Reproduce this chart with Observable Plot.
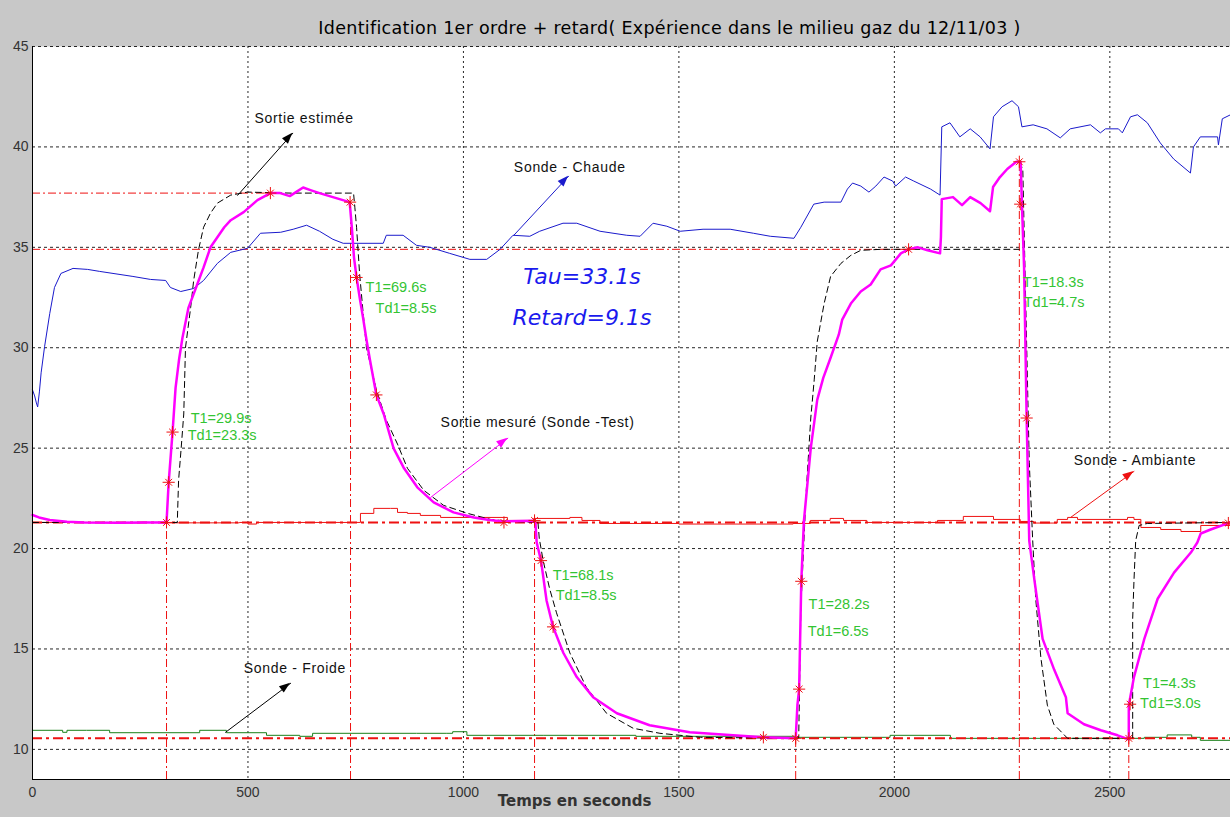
<!DOCTYPE html>
<html>
<head>
<meta charset="utf-8">
<script src="https://cdn.jsdelivr.net/npm/d3@7"></script>
<script src="https://cdn.jsdelivr.net/npm/@observablehq/plot@0.6"></script>
<style>
  html, body { margin:0; padding:0; background:#c8c8c8; width:1230px; height:817px; overflow:hidden; position:relative; }
  #title { position:absolute; left:0; top:0; width:1339px; height:36px; line-height:56px; text-align:center;
           font-family:"DejaVu Sans", sans-serif; font-size:17.5px; letter-spacing:0.3px; color:#000; white-space:nowrap; }
  #chart { position:absolute; left:0; top:36px; }
  .name-label text { letter-spacing:0.7px; }
</style>
</head>
<body>
<div id="title">Identification 1er ordre + retard( Expérience dans le milieu gaz du 12/11/03 )</div>
<div id="chart"></div>
<script>
// ---------------- data ----------------
const xTicks = [0, 500, 1000, 1500, 2000, 2500];
const yTicks = [10, 15, 20, 25, 30, 35, 40, 45];

// Sortie mesurée (Sonde -Test) : magenta
const measured = [[0,21.67],[15,21.55],[40,21.42],[80,21.33],[120,21.3],[200,21.28],[260,21.3],[311,21.3],[316,23.3],[325,25.8],[332,28.0],[340,29.4],[348,30.5],[362,32.0],[383,33.2],[397,34.0],[413,35.0],[429,35.5],[445,36.0],[460,36.35],[490,36.75],[522,37.35],[552,37.7],[575,37.7],[597,37.55],[615,37.8],[628,37.98],[645,37.85],[666,37.7],[697,37.5],[736,37.25],[741,36.0],[746,34.5],[752,33.5],[760,32.4],[767,31.5],[775,30.4],[783,29.4],[798,27.65],[815,26.7],[838,24.99],[861,24.04],[893,23.05],[931,22.3],[977,21.8],[1024,21.55],[1060,21.42],[1093,21.35],[1163,21.38],[1167,21.3],[1170,20.3],[1180,19.4],[1193,17.4],[1208,16.1],[1232,14.8],[1263,13.6],[1301,12.6],[1356,11.8],[1432,11.2],[1525,10.85],[1626,10.7],[1696,10.6],[1771,10.55],[1775,12.2],[1779,13.0],[1784,18.37],[1790,21.35],[1806,25.0],[1821,27.4],[1835,28.5],[1852,29.5],[1871,30.65],[1879,31.4],[1899,32.2],[1922,32.8],[1945,33.15],[1968,33.9],[1992,34.1],[2015,34.7],[2033,34.9],[2055,35.0],[2077,34.85],[2106,34.7],[2108,35.5],[2110,37.4],[2136,37.5],[2157,37.1],[2176,37.5],[2200,37.2],[2222,36.8],[2229,38.0],[2245,38.5],[2262,38.9],[2283,39.26],[2293,39.26],[2296,37.15],[2301,34.0],[2307,26.45],[2313,20.38],[2325,18.43],[2344,15.5],[2371,13.96],[2398,12.6],[2402,11.8],[2440,11.25],[2479,10.95],[2518,10.7],[2544,10.5],[2544,12.2],[2556,13.6],[2580,15.5],[2611,17.5],[2649,18.8],[2688,19.8],[2703,20.3],[2711,20.75],[2734,20.95],[2775,21.27],[2780,21.3]];

// Sortie estimée : black dashed, two pieces
const estimatedA = [[0,21.3],[336,21.3],[339,23.4],[345,25.0],[351,26.7],[355,30.0],[361,31.0],[367,32.0],[374,33.35],[385,34.85],[397,36.0],[413,36.7],[429,37.2],[460,37.6],[499,37.75],[600,37.7],[745,37.7],[748,37.0],[752,36.0],[759,33.7],[767,31.8],[775,30.0],[798,27.9],[821,26.4],[847,25.2],[870,24.0],[908,22.9],[954,22.15],[1010,21.75],[1063,21.45],[1110,21.35],[1173,21.3],[1176,20.5],[1185,19.4],[1200,18.0],[1216,16.8],[1247,14.8],[1285,13.1],[1332,11.8],[1394,11.05],[1456,10.8],[1550,10.6],[1778,10.55],[1783,17.0],[1795,22.7],[1806,26.5],[1814,28.4],[1821,30.3],[1837,32.2],[1852,33.55],[1876,34.2],[1899,34.6],[1922,34.85],[1968,34.9],[2290,34.9]];
const estimatedB = [[2290,39.26],[2298,38.9],[2305,32.05],[2313,24.3],[2321,20.4],[2328,17.5],[2340,14.55],[2355,12.2],[2370,11.25],[2402,10.55],[2553,10.55],[2553,16.5],[2556,18.4],[2560,20.4],[2568,21.15],[2587,21.25],[2780,21.3]];

// Sonde - Chaude : blue
const hot = [[0,27.9],[5,27.6],[9,27.25],[12,27.05],[16,27.8],[20,28.75],[28,30.05],[40,31.7],[51,33.0],[66,33.7],[94,33.95],[128,33.9],[156,33.8],[233,33.55],[274,33.4],[309,33.35],[320,33.0],[344,32.8],[374,32.95],[397,33.35],[429,34.2],[460,34.75],[499,34.95],[529,35.7],[576,35.75],[605,35.9],[636,36.1],[666,35.8],[697,35.4],[721,35.2],[814,35.2],[821,35.6],[860,35.6],[891,35.1],[922,35.0],[968,34.7],[1015,34.4],[1054,34.4],[1085,34.9],[1115,35.6],[1154,35.55],[1177,35.8],[1231,36.2],[1263,36.2],[1317,35.8],[1379,35.6],[1410,35.55],[1440,36.2],[1472,36.05],[1503,35.8],[1556,35.9],[1619,35.9],[1673,35.7],[1712,35.55],[1767,35.45],[1783,36.0],[1813,37.15],[1837,37.25],[1876,37.25],[1891,37.9],[1903,38.2],[1922,38.05],[1941,37.75],[1957,38.05],[1976,38.5],[1996,38.3],[2003,38.05],[2026,38.5],[2045,38.3],[2084,37.9],[2106,37.6],[2110,41.0],[2129,41.2],[2152,40.5],[2176,40.9],[2199,40.5],[2222,39.9],[2230,41.5],[2250,42.0],[2273,42.3],[2288,42.0],[2296,41.0],[2322,41.1],[2354,40.9],[2385,40.45],[2408,40.9],[2455,41.1],[2478,40.7],[2490,40.9],[2520,40.9],[2529,40.7],[2548,41.5],[2564,41.6],[2587,41.2],[2617,40.2],[2648,39.4],[2687,38.7],[2694,40.0],[2710,40.5],[2750,40.5],[2752,40.1],[2761,41.4],[2780,41.6]];

// Sonde - Ambiante : red
const ambient = [[0,21.3],[100,21.3],[200,21.28],[250,21.3],[300,21.28],[480,21.3],[500,21.22],[520,21.3],[738,21.3],[761,21.75],[792,22.0],[831,22.0],[847,21.8],[870,21.75],[900,21.65],[947,21.55],[1102,21.4],[1163,21.5],[1247,21.55],[1275,21.4],[1317,21.25],[1500,21.22],[1765,21.25],[1805,21.4],[1851,21.5],[1882,21.4],[1936,21.3],[2100,21.4],[2160,21.6],[2230,21.45],[2292,21.35],[2323,21.27],[2378,21.45],[2402,21.55],[2425,21.45],[2541,21.55],[2556,21.45],[2572,21.05],[2618,20.95],[2665,20.85],[2711,21.15],[2780,21.25]];

// Sonde - Froide : green
const cold = [[0,10.95],[70,10.85],[80,10.95],[125,10.95],[179,10.83],[388,10.95],[450,10.83],[543,10.7],[620,10.65],[650,10.8],[891,10.8],[960,10.8],[975,10.88],[1008,10.7],[1185,10.7],[1400,10.65],[1770,10.6],[1990,10.7],[2130,10.55],[2500,10.55],[2580,10.6],[2633,10.72],[2690,10.6],[2710,10.45],[2780,10.45]];

// reference levels
const levelLines = [{y:37.7, x1:0, x2:552}, {y:34.9, x1:0, x2:2033}];
const baseLevels = [21.3, 10.55];
const stepTimes = [{x:311, y:21.3}, {x:738, y:37.25}, {x:1165, y:21.3}, {x:1771, y:10.55}, {x:2290, y:39.26}, {x:2544, y:10.55}];

// identification points (red stars)
const stars = [[311,21.3],[316,23.3],[325,25.8],[552,37.7],[737,37.25],[752,33.5],[798,27.65],[1094,21.3],[1165,21.4],[1180,19.4],[1208,16.1],[1696,10.6],[1771,10.55],[1779,13.0],[1784,18.37],[2033,34.9],[2290,39.26],[2292,37.15],[2307,26.5],[2544,10.55],[2547,12.25],[2775,21.27]];

// annotations
const names = [
  {x:515, y:41.42, text:"Sortie estimée"},
  {x:1117, y:38.98, text:"Sonde - Chaude"},
  {x:947, y:26.28, text:"Sortie mesuré (Sonde -Test)"},
  {x:2416, y:24.39, text:"Sonde - Ambiante"},
  {x:490, y:14.03, text:"Sonde - Froide"}
];
const arrows = [
  {x1:476, y1:37.59, x2:604, y2:40.68, color:"#000000", dash:"4,3"},
  {x1:1117, y1:35.6, x2:1244, y2:38.54, color:"#1a1acc", dash:null},
  {x1:924, y1:22.55, x2:1103, y2:25.49, color:"#ff00ff", dash:null},
  {x1:2409, y1:21.55, x2:2556, y2:23.84, color:"#ee1111", dash:null},
  {x1:448, y1:10.85, x2:599, y2:13.29, color:"#000000", dash:null}
];
const idLabels = [
  {x:367, y:26.48, text:"T1=29.9s"}, {x:360, y:25.64, text:"Td1=23.3s"},
  {x:773, y:33.0, text:"T1=69.6s"}, {x:796, y:31.96, text:"Td1=8.5s"},
  {x:1207, y:18.67, text:"T1=68.1s"}, {x:1214, y:17.67, text:"Td1=8.5s"},
  {x:1801, y:17.22, text:"T1=28.2s"}, {x:1799, y:15.88, text:"Td1=6.5s"},
  {x:2298, y:33.26, text:"T1=18.3s"}, {x:2300, y:32.26, text:"Td1=4.7s"},
  {x:2577, y:13.29, text:"T1=4.3s"}, {x:2570, y:12.29, text:"Td1=3.0s"}
];
const results = [{x:1275, y:33.5, text:"Tau=33.1s"}, {x:1275, y:31.5, text:"Retard=9.1s"}];
const xLabel = [{x:1258, text:"Temps en seconds"}];

// ---------------- chart ----------------
const xDomain = [0, 2780], yDomain = [8.5, 45];
const P = d => ({x: d[0], y: d[1]});
const estimated = [...estimatedA.map(d => ({...P(d), seg:"A"})), ...estimatedB.map(d => ({...P(d), seg:"B"}))];
const RED = "#ee1111";

const plot = Plot.plot({
  width: 1230, height: 781,
  marginTop: 10, marginBottom: 38, marginLeft: 32, marginRight: 0,
  style: {background: "transparent", fontFamily: "'Liberation Sans', Arial, sans-serif", fontSize: "14px", color: "#222", overflow: "visible"},
  x: {domain: xDomain},
  y: {domain: yDomain},
  marks: [
    Plot.frame({fill: "white", stroke: "none"}),
    Plot.ruleX(xTicks.filter(d => d > 0), {stroke: "#000", strokeWidth: 1, strokeDasharray: "2,3", strokeOpacity: 0.85}),
    Plot.ruleY(yTicks, {stroke: "#000", strokeWidth: 1, strokeDasharray: "3,3", strokeOpacity: 0.85}),
    Plot.axisX({ticks: xTicks, tickSize: 0, tickPadding: 8, label: null, tickFormat: d => String(d), fontSize: 14, fill: "#333"}),
    Plot.axisY({ticks: yTicks, tickSize: 0, tickPadding: 4, label: null, fontSize: 14, fill: "#333"}),
    Plot.text(xLabel, {x: "x", text: "text", frameAnchor: "bottom", dy: 26, fontSize: 15, fontWeight: "bold", fill: "#333", fontFamily: "'DejaVu Sans', sans-serif"}),
    // vertical step markers and level lines
    Plot.ruleX(stepTimes, {x: "x", y1: yDomain[0], y2: "y", stroke: RED, strokeWidth: 1, strokeDasharray: "8,3,2,3"}),
    Plot.ruleY(levelLines, {y: "y", x1: "x1", x2: "x2", stroke: RED, strokeWidth: 1, strokeDasharray: "8,3,2,3"}),
    // probes
    Plot.line(cold.map(P), {x: "x", y: "y", stroke: "#1a801a", strokeWidth: 1, curve: "step-after"}),
    Plot.line(ambient.map(P), {x: "x", y: "y", stroke: RED, strokeWidth: 1, curve: "step-after"}),
    Plot.ruleY(baseLevels, {stroke: RED, strokeWidth: 2, strokeDasharray: "10,4,3,4"}),
    Plot.line(hot.map(P), {x: "x", y: "y", stroke: "#1a1acc", strokeWidth: 1}),
    // model and measurement
    Plot.line(estimated, {x: "x", y: "y", z: "seg", stroke: "#000", strokeWidth: 1, strokeDasharray: "6,4"}),
    Plot.line(measured.map(P), {x: "x", y: "y", stroke: "#ff00ff", strokeWidth: 2.5}),
    Plot.dot(stars.map(P), {x: "x", y: "y", symbol: "plus", r: 4, stroke: RED, strokeWidth: 1}),
    Plot.dot(stars.map(P), {x: "x", y: "y", symbol: "times", r: 3.2, stroke: RED, strokeWidth: 1}),
    // axes lines
    Plot.ruleX([xDomain[0]], {stroke: "#000", strokeWidth: 1}),
    Plot.ruleY([yDomain[0]], {stroke: "#000", strokeWidth: 1}),
    // annotations
    Plot.arrow(arrows, {x1: "x1", y1: "y1", x2: "x2", y2: "y2", stroke: d => d.color, strokeDasharray: d => d.dash, strokeWidth: 1, headLength: 0}),
    Plot.text(names, {x: "x", y: "y", text: "text", textAnchor: "start", fontSize: 14, fill: "#111", className: "name-label"}),
    Plot.text(idLabels, {x: "x", y: "y", text: "text", textAnchor: "start", fontSize: 14.5, fill: "#33c433"}),
    Plot.text(results, {x: "x", y: "y", text: "text", fontSize: 22, fontStyle: "italic", fill: "#1a1aee", fontFamily: "'DejaVu Sans', sans-serif"})
  ]
});
document.getElementById("chart").appendChild(plot);

// filled arrow heads (MATLAB style), positioned through the plot's scales
const sx = plot.scale("x"), sy = plot.scale("y");
const svg = d3.select(plot.tagName.toLowerCase() === "svg" ? plot : plot.querySelector("svg"));
const heads = svg.append("g");
for (const a of arrows) {
  const X1 = sx.apply(a.x1), Y1 = sy.apply(a.y1), X2 = sx.apply(a.x2), Y2 = sy.apply(a.y2);
  const ang = Math.atan2(Y2 - Y1, X2 - X1), L = 11, W = 4;
  const bx = X2 - L * Math.cos(ang), by = Y2 - L * Math.sin(ang);
  const pts = [[X2, Y2], [bx + W * Math.sin(ang), by - W * Math.cos(ang)], [bx - W * Math.sin(ang), by + W * Math.cos(ang)]];
  heads.append("polygon").attr("points", pts.map(p => p.join(",")).join(" ")).attr("fill", a.color);
}
</script>
</body>
</html>
